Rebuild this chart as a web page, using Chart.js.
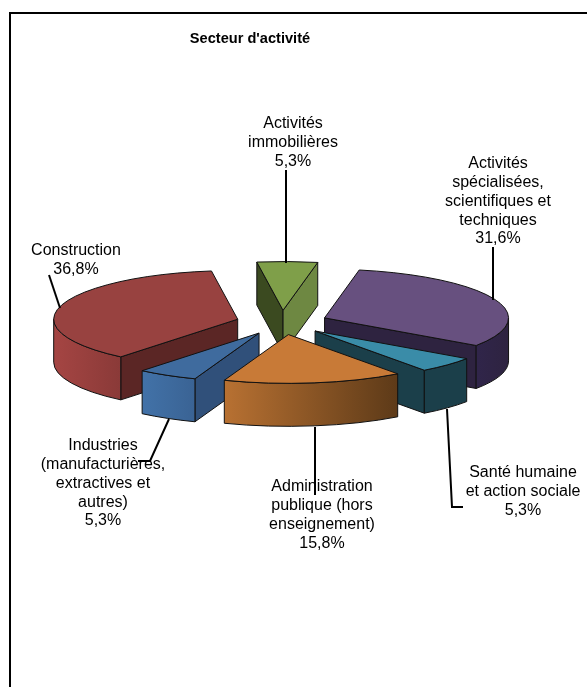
<!DOCTYPE html>
<html>
<head>
<meta charset="utf-8">
<style>
  html, body { margin: 0; padding: 0; background: #fff; }
  #wrap { position: relative; width: 587px; height: 687px; }
</style>
<script src="https://cdn.jsdelivr.net/npm/chart.js@4"></script>
</head>
<body>
<div id="wrap"><canvas id="secteurChrt" width="587" height="687"></canvas></div>
<script>
const titre = "Secteur d'activité";
const categories = [
  ["Activités", "immobilières"],
  ["Activités", "spécialisées,", "scientifiques et", "techniques"],
  ["Santé humaine", "et action sociale"],
  ["Administration", "publique (hors", "enseignement)"],
  ["Industries", "(manufacturières,", "extractives et", "autres)"],
  ["Construction"]
];
const valeurs = [5.3, 31.6, 5.3, 15.8, 5.3, 36.8];

// couleurs : dessus, face gauche, face droite, paroi (debut et fin du degrade)
const couleursDessus = ["#7f9f49", "#67507f", "#3a8ca8", "#c87a37", "#3f6b9e", "#984240"];
const couleursDebut = ["#3b4a20", "#2e2340", "#1b3f4a", "#5d3a18", "#30507a", "#5b2625"];
const couleursFin = ["#6e8842", "#2e2340", "#1b3f4a", "#5d3a18", "#30507a", "#5b2625"];
const paroiGauche = ["#6e8842", "#30254a", "#1b3f4a", "#b87132", "#4272a8", "#a54543"];
const paroiDroite = ["#6e8842", "#2e2340", "#1b3f4a", "#5d3a18", "#3a6394", "#8a3a38"];

// position du texte (centre, premiere ligne) et trait de rappel de chaque etiquette
const posEtiquettes = [
  { x: 293, y: 124, trait: [[286, 170], [286, 263]] },
  { x: 498, y: 164, trait: [[493, 247], [493, 300]] },
  { x: 523, y: 473, trait: [[447, 409], [452, 507], [463, 507]] },
  { x: 322, y: 487, trait: [[315, 427], [315, 495]] },
  { x: 103, y: 446, trait: [[169, 419], [150, 461], [138, 461]] },
  { x: 76, y: 251, trait: [[49, 275], [60, 308]] }
];

const ecrase = 0.265;     // aplatissement de l'ellipse
const hauteur = 43;       // epaisseur du camembert
const interligne = 18.7;

const camembert3d = {
  id: "camembert3d",
  beforeDatasetDraw(chart) {
    const ctx = chart.ctx;
    const arcs = chart.getDatasetMeta(0).data.map((arc, i) => {
      const p = arc.getProps(["x", "y", "startAngle", "endAngle", "outerRadius"], true);
      const mid = (p.startAngle + p.endAngle) / 2;
      return {
        i,
        a: p.startAngle,
        b: p.endAngle,
        r: p.outerRadius,
        cx: p.x + Math.cos(mid) * arc.options.offset,
        cy: p.y + Math.sin(mid) * arc.options.offset * ecrase
      };
    });
    // du fond vers l'avant
    arcs.sort((s, t) => s.cy - t.cy);

    ctx.save();
    ctx.lineJoin = "round";
    ctx.lineWidth = 1;
    ctx.strokeStyle = "#111";
    arcs.forEach(s => {
      const bord = ang => [s.cx + Math.cos(ang) * s.r, s.cy + Math.sin(ang) * s.r * ecrase];

      const face = (ang, couleur) => {
        const c = bord(ang);
        ctx.beginPath();
        ctx.moveTo(s.cx, s.cy);
        ctx.lineTo(c[0], c[1]);
        ctx.lineTo(c[0], c[1] + hauteur);
        ctx.lineTo(s.cx, s.cy + hauteur);
        ctx.closePath();
        ctx.fillStyle = couleur;
        ctx.fill();
        ctx.stroke();
      };
      if (Math.cos(s.a) < 0) face(s.a, couleursDebut[s.i]);
      if (Math.cos(s.b) > 0) face(s.b, couleursFin[s.i]);

      // paroi exterieure : seulement la partie tournee vers nous
      const deb = Math.max(s.a, 0);
      const fin = Math.min(s.b, Math.PI);
      if (fin > deb) {
        const c1 = bord(deb), c2 = bord(fin);
        const xs = [c1[0], c2[0]];
        if (deb < Math.PI / 2 && fin > Math.PI / 2) xs.push(s.cx);
        const grad = ctx.createLinearGradient(Math.min(...xs), 0, Math.max(...xs), 0);
        grad.addColorStop(0, paroiGauche[s.i]);
        grad.addColorStop(1, paroiDroite[s.i]);
        ctx.beginPath();
        ctx.ellipse(s.cx, s.cy, s.r, s.r * ecrase, 0, deb, fin);
        ctx.ellipse(s.cx, s.cy + hauteur, s.r, s.r * ecrase, 0, fin, deb, true);
        ctx.closePath();
        ctx.fillStyle = grad;
        ctx.fill();
        ctx.stroke();
      }

      // dessus
      ctx.beginPath();
      ctx.moveTo(s.cx, s.cy);
      ctx.ellipse(s.cx, s.cy, s.r, s.r * ecrase, 0, s.a, s.b);
      ctx.closePath();
      ctx.fillStyle = couleursDessus[s.i];
      ctx.fill();
      ctx.stroke();
    });
    ctx.restore();
    return false;
  },
  afterDraw(chart) {
    const ctx = chart.ctx;
    ctx.save();
    // cadre : seuls le haut et la gauche sont visibles
    ctx.strokeStyle = "#000";
    ctx.lineWidth = 2;
    ctx.beginPath();
    ctx.moveTo(10, 687);
    ctx.lineTo(10, 13);
    ctx.lineTo(587, 13);
    ctx.stroke();

    // traits de rappel
    posEtiquettes.forEach(e => {
      ctx.beginPath();
      e.trait.forEach((pt, k) => k ? ctx.lineTo(pt[0], pt[1]) : ctx.moveTo(pt[0], pt[1]));
      ctx.stroke();
    });

    ctx.fillStyle = "#000";
    ctx.textAlign = "center";
    ctx.textBaseline = "middle";
    ctx.font = "bold 14.6px 'Liberation Sans'";
    ctx.fillText(titre, 250, 39);

    ctx.font = "16px 'Liberation Sans'";
    categories.forEach((lignes, i) => {
      const e = posEtiquettes[i];
      const txt = lignes.concat(String(valeurs[i]).replace(".", ",") + "%");
      txt.forEach((l, k) => ctx.fillText(l, e.x, e.y + k * interligne));
    });
    ctx.restore();
  }
};

new Chart(document.querySelector("#secteurChrt"), {
  type: "pie",
  data: {
    labels: categories.map(c => c.join(" ")),
    datasets: [{ data: valeurs, backgroundColor: couleursDessus, offset: 46 }]
  },
  options: {
    responsive: false,
    animation: false,
    rotation: -8.2,
    radius: 184,
    layout: { padding: { right: 23, bottom: 42 } },
    plugins: { legend: { display: false }, tooltip: { enabled: false } }
  },
  plugins: [camembert3d]
});
</script>
</body>
</html>
